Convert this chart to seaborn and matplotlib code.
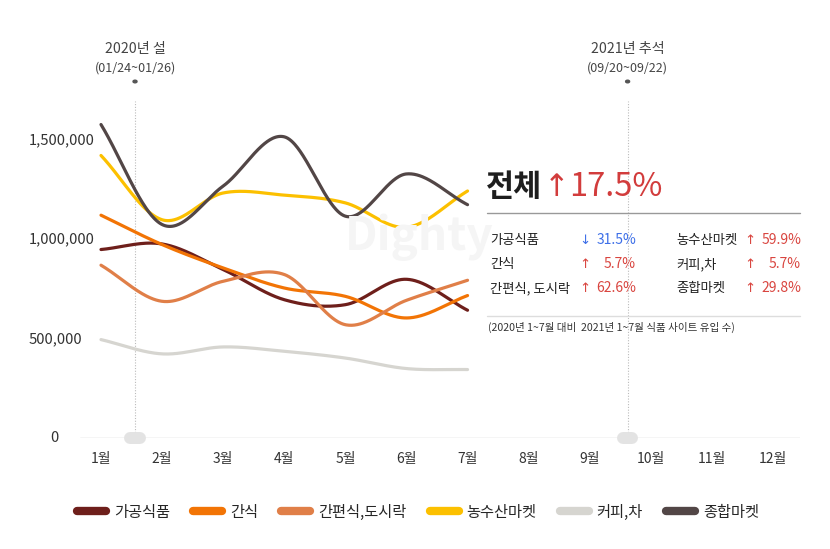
import numpy as np
import pandas as pd
import matplotlib
matplotlib.use("Agg")
import matplotlib.pyplot as plt
from matplotlib.lines import Line2D
import seaborn as sns

months = [1, 2, 3, 4, 5, 6, 7]
tick_labels = ["1월", "2월", "3월", "4월", "5월", "6월", "7월", "8월", "9월", "10월", "11월", "12월"]
series_names = ["가공식품", "간식", "간편식,도시락", "농수산마켓", "커피,차", "종합마켓"]
processed = [950000, 978000, 849000, 697000, 672000, 800000, 644000]
snack = [1123000, 975000, 857000, 756000, 714000, 605000, 718000]
mealkit = [871000, 689000, 790000, 824000, 571000, 694000, 795000]
farm = [1424000, 1100000, 1235000, 1224000, 1185000, 1062000, 1245000]
coffee = [496000, 424000, 459000, 437000, 403000, 350000, 345000]
general = [1580000, 1076000, 1270000, 1518000, 1118000, 1331000, 1176000]
colors = ["#6e1f1b", "#f27405", "#e07f48", "#fcc000", "#d6d5d0", "#524646"]
y_ticks = [0, 500000, 1000000, 1500000]
y_tick_labels = ["0", "500,000", "1,000,000", "1,500,000"]
events = [(1.557, "2020년 설", "(01/24~01/26)"), (9.62, "2021년 추석", "(09/20~09/22)")]
total_label = "전체"
total_arrow = "↑"
total_value = "17.5%"
rows_left = [("가공식품", "↓", "31.5%", "#3d6fe8"), ("간식", "↑", "5.7%", "#d9453f"), ("간편식, 도시락", "↑", "62.6%", "#d9453f")]
rows_right = [("농수산마켓", "↑", "59.9%", "#d9453f"), ("커피,차", "↑", "5.7%", "#d9453f"), ("종합마켓", "↑", "29.8%", "#d9453f")]
footnote = "(2020년 1~7월 대비  2021년 1~7월 식품 사이트 유입 수)"

sns.set_theme(style="white")
FONT = ["Noto Sans CJK KR", "DejaVu Sans"]
plt.rcParams["font.family"] = FONT

W, H = 830, 549
fig = plt.figure(figsize=(W / 100, H / 100), dpi=100)

def fx(x):
    return x / W

def fy(y):
    return 1 - y / H

ax_left, ax_right, ax_bottom = 80, 800, 438
ymax = 1.7e6
ax_top = 438 - 1.7 * 198.4
ax = fig.add_axes([fx(ax_left), fy(ax_bottom), (ax_right - ax_left) / W, (ax_bottom - ax_top) / H])
xl = 1 - 21 / 61.1
xr = 12 + 27 / 61.1
ax.set_xlim(xl, xr)
ax.set_ylim(0, ymax)

def catmull_rom(x, y, xs):
    x = np.asarray(x, float); y = np.asarray(y, float)
    n = len(x)
    m = np.zeros(n)
    for i in range(n):
        if i == 0:
            m[i] = (y[1] - y[0]) / (x[1] - x[0])
        elif i == n - 1:
            m[i] = (y[-1] - y[-2]) / (x[-1] - x[-2])
        else:
            m[i] = (y[i + 1] - y[i - 1]) / (x[i + 1] - x[i - 1])
    out = np.empty_like(xs)
    for k, xv in enumerate(xs):
        i = min(max(np.searchsorted(x, xv) - 1, 0), n - 2)
        h = x[i + 1] - x[i]
        t = (xv - x[i]) / h
        h00 = 2 * t ** 3 - 3 * t ** 2 + 1
        h10 = t ** 3 - 2 * t ** 2 + t
        h01 = -2 * t ** 3 + 3 * t ** 2
        h11 = t ** 3 - t ** 2
        out[k] = h00 * y[i] + h10 * h * m[i] + h01 * y[i + 1] + h11 * h * m[i + 1]
    return out

all_series = [processed, snack, mealkit, farm, coffee, general]
xs = np.linspace(1, 7, 400)
frames = []
for name, vals in zip(series_names, all_series):
    frames.append(pd.DataFrame({"month": xs, "value": catmull_rom(months, vals, xs), "series": name}))
df = pd.concat(frames, ignore_index=True)

# faint watermark
fig.text(fx(345), fy(237), "Dighty", fontsize=33, fontweight="bold", color="#f5f5f5", ha="left", va="center", zorder=0)

for name, col in zip(series_names, colors):
    sub = df[df["series"] == name]
    sns.lineplot(data=sub, x="month", y="value", ax=ax, color=col, linewidth=2.3, sort=False, legend=False, zorder=3)

ax.patch.set_alpha(0)
for s in ax.spines.values():
    s.set_visible(False)
ax.axhline(0, color="#cfcfcf", linewidth=1.0, zorder=1)
ax.set_xlabel(""); ax.set_ylabel("")
ax.set_xticks(range(1, 13))
ax.set_xticklabels(tick_labels, fontsize=10, color="#333333")
ax.tick_params(axis="x", length=0, pad=10)
ax.set_yticks([])
for v, lab in zip(y_ticks, y_tick_labels):
    xpos = 50 if v == 0 else 29
    fig.text(fx(xpos), fy(438 - v / 1e6 * 198.4), lab, ha="left", va="center", fontsize=10.6, color="#333333")

for xe, t1, t2 in events:
    ax.plot([xe, xe], [0, ymax], color="#bbbbbb", linewidth=0.8, linestyle=(0, (1, 1.5)), zorder=1)
    ax.plot([xe - 0.08, xe + 0.08], [0, 0], color="#e3e3e3", linewidth=8.6, solid_capstyle="round", zorder=2, clip_on=False)
    xpix = ax_left + (xe - xl) / (xr - xl) * (ax_right - ax_left)
    fig.text(fx(xpix), fy(49), t1, ha="center", va="center", fontsize=10.2, color="#444444")
    fig.text(fx(xpix), fy(68), t2, ha="center", va="center", fontsize=9.0, color="#444444")
    fig.patches.append(plt.Circle((fx(xpix), fy(81.5)), 0.0024, transform=fig.transFigure, color="#555555"))

# right panel
fig.text(fx(486), fy(187), total_label, ha="left", va="center", fontsize=22, fontweight="bold", color="#1e1e1e")
fig.text(fx(569), fy(188), total_arrow, ha="right", va="center", fontsize=22, color="#d23c3c", family=["DejaVu Sans"])
fig.text(fx(569), fy(187), total_value, ha="left", va="center", fontsize=23.5, color="#d23c3c")
fig.add_artist(Line2D([fx(487), fx(800)], [fy(213), fy(213)], color="#999999", linewidth=1.0))
fig.add_artist(Line2D([fx(487), fx(800)], [fy(316), fy(316)], color="#dddddd", linewidth=1.0))
row_y = [240, 264, 288]
for (lab, ar, val, col), yy in zip(rows_left, row_y):
    fig.text(fx(490), fy(yy), lab, ha="left", va="center", fontsize=9.6, color="#222222")
    fig.text(fx(579), fy(yy), ar, ha="left", va="center", fontsize=9.6, color=col, family=["DejaVu Sans"])
    fig.text(fx(636), fy(yy), val, ha="right", va="center", fontsize=10, color=col)
for (lab, ar, val, col), yy in zip(rows_right, row_y):
    fig.text(fx(676), fy(yy), lab, ha="left", va="center", fontsize=9.6, color="#222222")
    fig.text(fx(744), fy(yy), ar, ha="left", va="center", fontsize=9.6, color=col, family=["DejaVu Sans"])
    fig.text(fx(801), fy(yy), val, ha="right", va="center", fontsize=10, color=col)
fig.text(fx(488), fy(327), footnote, ha="left", va="center", fontsize=7.6, color="#333333")

# legend
handles = [Line2D([0], [0], color=c, linewidth=6, solid_capstyle="round") for c in colors]
fs = 11
fs_px = fs / 0.72
fig.legend(handles, series_names, loc="center", bbox_to_anchor=(fx(418), fy(512)), ncol=6, frameon=False,
           fontsize=fs, handlelength=29 / fs_px, handletextpad=8 / fs_px, columnspacing=23 / fs_px,
           borderpad=0, borderaxespad=0)

fig.savefig("out.png", dpi=100)
